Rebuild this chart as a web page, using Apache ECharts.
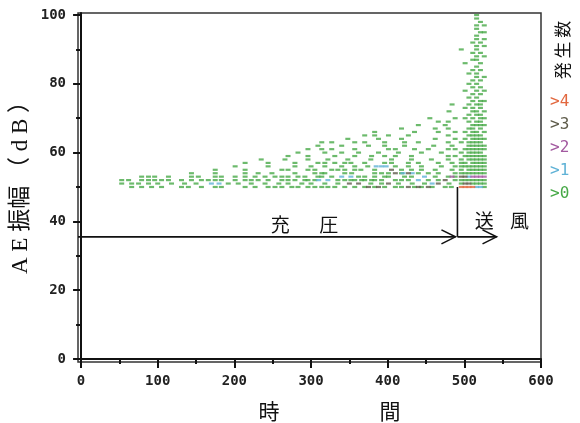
<!DOCTYPE html>
<html>
<head>
<meta charset="utf-8">
<script src="https://cdn.jsdelivr.net/npm/echarts@6/dist/echarts.min.js"></script>
<style>
  html, body { margin: 0; padding: 0; background: #fff; }
  #chart { width: 580px; height: 423px; }
</style>
</head>
<body>
<div id="chart"></div>
<script>
// axis ticks
const xMajor = [0, 100, 200, 300, 400, 500, 600];
const xMinor = [50, 150, 250, 350, 450, 550];
const yMajor = [0, 20, 40, 60, 80, 100];
const yMinor = [10, 30, 50, 70, 90];

const countNames = ['>4', '>3', '>2', '>1', '>0'];
const countColors = ['#e2683f', '#5e5b4a', '#a35aa0', '#5fb2d6', '#47a947'];

// >0 hits during charging: [dB, times]
const chargeRows = [
  [50, [66, 79, 92, 105, 131, 140, 157, 175, 183, 214, 227, 244, 253, 262, 275, 283, 296, 305, 314, 322, 331, 344, 357, 370, 383, 396, 410, 418, 435, 444, 458, 475, 483]],
  [51, [53, 66, 75, 88, 100, 118, 135, 150, 192, 205, 222, 240, 258, 270, 288, 300, 318, 335, 378, 392, 414, 432, 448, 480]],
  [52, [53, 62, 79, 88, 96, 105, 114, 131, 144, 157, 166, 175, 183, 201, 214, 222, 231, 244, 262, 270, 279, 292, 296, 305, 335, 344, 352, 357, 366, 370, 379, 383, 392, 410, 418, 427, 453, 466, 488]],
  [53, [79, 88, 96, 114, 144, 153, 175, 183, 201, 214, 227, 240, 253, 262, 270, 283, 292, 309, 314, 327, 362, 370, 383, 396, 401, 422, 431, 462, 479, 488]],
  [54, [144, 175, 214, 231, 249, 279, 305, 314, 318, 344, 353, 383, 392, 401, 418, 440, 453, 466, 488]],
  [55, [175, 214, 262, 270, 296, 305, 327, 335, 344, 357, 365, 383, 418, 431, 444, 462, 484]],
  [56, [201, 244, 279, 300, 318, 340, 357, 374, 410, 427, 444, 470, 488]],
  [57, [214, 244, 279, 309, 318, 331, 344, 352, 370, 396, 405, 427, 440, 466, 484]],
  [58, [235, 266, 296, 322, 348, 378, 405, 431, 457, 479]],
  [59, [270, 296, 331, 357, 379, 396, 410, 431, 479, 488]],
  [60, [283, 318, 340, 362, 388, 414, 444, 470]],
  [61, [296, 314, 327, 357, 401, 410, 435, 453, 479, 488]],
  [62, [309, 340, 375, 396, 422, 460, 484]],
  [63, [314, 327, 357, 370, 396, 422, 440, 479]],
  [64, [348, 388, 418, 462, 488]],
  [65, [370, 383, 401, 427, 479]],
  [66, [383, 435, 466, 488]],
  [67, [418, 462, 479]],
  [68, [440, 475]],
  [69, [466, 479]],
  [70, [455, 488]],
  [72, [480]],
  [74, [484]]
];

// >0 hits during air blowing: [dB, times]
const blowRows = [
  [50, [526]],
  [51, [496, 511, 516, 521, 526]],
  [52, [496, 501, 506, 511, 516, 521, 526]],
  [54, [496, 501, 506, 511, 516, 521, 526]],
  [55, [496, 506, 511, 516, 521, 526]],
  [56, [496, 501, 506, 511, 516, 521, 526]],
  [57, [496, 501, 511, 516, 521, 526]],
  [58, [496, 506, 511, 516, 521, 526]],
  [59, [501, 506, 511, 516, 521, 526]],
  [60, [496, 506, 511, 516, 521]],
  [61, [501, 506, 511, 516, 521, 526]],
  [62, [506, 511, 516, 521, 526]],
  [63, [496, 506, 511, 516, 521]],
  [64, [501, 511, 516, 521, 526]],
  [65, [506, 511, 516, 521]],
  [66, [501, 511, 516, 526]],
  [67, [506, 511, 521]],
  [68, [511, 516, 521, 526]],
  [69, [506, 516, 521]],
  [70, [501, 511, 521, 526]],
  [71, [506, 516, 521]],
  [72, [511, 516, 526]],
  [73, [501, 511, 521]],
  [74, [506, 516, 521]],
  [75, [511, 521, 526]],
  [76, [506, 516]],
  [77, [511, 521]],
  [78, [501, 516, 526]],
  [79, [511, 521]],
  [80, [506, 516]],
  [81, [511, 521]],
  [82, [516, 526]],
  [83, [506, 516]],
  [84, [511, 521]],
  [85, [516]],
  [86, [501, 521]],
  [87, [511, 516]],
  [88, [516, 526]],
  [89, [511, 521]],
  [90, [496, 516]],
  [91, [516, 526]],
  [92, [511, 521]],
  [93, [516, 526]],
  [94, [516]],
  [95, [521, 526]],
  [96, [516]],
  [97, [516, 526]],
  [98, [521]],
  [99, [516]],
  [100, [516]]
];

// higher counts: [time, dB]
const over1 = [[170, 51], [180, 51], [310, 52], [322, 52], [340, 53], [352, 53], [385, 56], [392, 56], [398, 56],
  [420, 54], [432, 54], [448, 53], [440, 52], [458, 51], [506, 53], [516, 50], [521, 50]];
const over2 = [[484, 53], [511, 53], [516, 53], [521, 53], [526, 53]];
const over3 = [[350, 51], [362, 51], [375, 50], [388, 50], [401, 51], [427, 50], [440, 50], [453, 50], [466, 51],
  [475, 52], [410, 54], [427, 54], [405, 55], [496, 53], [501, 53], [501, 51], [506, 51]];
const over4 = [[496, 50], [501, 50], [506, 50], [511, 50]];

// annotation: charging ends / blowing ends, arrow height
const phaseTimes = [-4, 491, 542];
const arrowLevel = 35.5;
const phaseTop = 50;

function rowsToPoints(rows) {
  const pts = [];
  rows.forEach(function (r) {
    r[1].forEach(function (t) { pts.push([t, r[0]]); });
  });
  return pts;
}
const over0 = rowsToPoints(chargeRows).concat(rowsToPoints(blowRows));

const chart = echarts.init(document.getElementById('chart'));
const axisColor = '#111';
const labelStyle = { fontFamily: 'DejaVu Sans Mono', fontWeight: 'bold', fontSize: 14, color: '#222' };

function dashSeries(name, color, data) {
  return {
    name: name,
    type: 'scatter',
    xAxisIndex: 0,
    yAxisIndex: 0,
    symbol: 'rect',
    symbolSize: [5, 2.2],
    itemStyle: { color: color },
    data: data
  };
}

chart.setOption({
  animation: false,
  grid: { left: 78, top: 13, right: 39, bottom: 61, show: true, borderColor: '#333', borderWidth: 1.5 },
  legend: {
    orient: 'vertical',
    left: 540,
    top: 88,
    itemWidth: 0,
    itemHeight: 0,
    itemGap: 6,
    selectedMode: false,
    textStyle: { fontFamily: 'DejaVu Sans Mono', fontSize: 16, lineHeight: 17 },
    data: countNames.map(function (n, i) {
      return { name: n, textStyle: { color: countColors[i] } };
    })
  },
  xAxis: [
    {
      type: 'value', min: -4, max: 600, position: 'bottom',
      axisLine: { lineStyle: { color: axisColor, width: 2 } },
      axisTick: { length: 9, customValues: xMajor, lineStyle: { color: axisColor, width: 2 } },
      axisLabel: Object.assign({ customValues: xMajor, margin: 12 }, labelStyle),
      splitLine: { show: false }
    },
    {
      type: 'value', min: -4, max: 600, position: 'bottom',
      axisLine: { show: false },
      axisTick: { length: 5, customValues: xMinor, lineStyle: { color: axisColor, width: 2 } },
      axisLabel: { show: false },
      splitLine: { show: false }
    }
  ],
  yAxis: [
    {
      type: 'value', min: -0.9, max: 100.6, position: 'left',
      axisLine: { show: true, lineStyle: { color: axisColor, width: 2 } },
      axisTick: { show: true, length: 8, customValues: yMajor, lineStyle: { color: axisColor, width: 2 } },
      axisLabel: Object.assign({ customValues: yMajor, margin: 12 }, labelStyle),
      splitLine: { show: false }
    },
    {
      type: 'value', min: -0.9, max: 100.6, position: 'left',
      axisLine: { show: false },
      axisTick: { show: true, length: 5, customValues: yMinor, lineStyle: { color: axisColor, width: 2 } },
      axisLabel: { show: false },
      splitLine: { show: false }
    }
  ],
  series: [
    dashSeries('>0', countColors[4], over0),
    dashSeries('>1', countColors[3], over1),
    dashSeries('>2', countColors[2], over2),
    dashSeries('>3', countColors[1], over3),
    dashSeries('>4', countColors[0], over4)
  ]
});

// phase arrows and titles
function px(t, v) { return chart.convertToPixel({ seriesIndex: 0 }, [t, v]); }
const a0 = px(phaseTimes[0], arrowLevel);
const a1 = px(phaseTimes[1], arrowLevel);
const a2 = px(phaseTimes[2], arrowLevel);
const aTop = px(phaseTimes[1], phaseTop);
const lineStyle = { stroke: '#111', lineWidth: 1.6, fill: null };

function arrowHead(p) {
  return { type: 'polyline', shape: { points: [[p[0] - 14, p[1] - 7], [p[0], p[1]], [p[0] - 14, p[1] + 7]] }, style: lineStyle };
}
function label(text, x, y, size, rot) {
  return {
    type: 'text', x: x, y: y, rotation: rot || 0,
    style: { text: text, fontFamily: 'Noto Sans CJK JP', fontSize: size, fill: '#111', align: 'center', verticalAlign: 'middle' }
  };
}
const c1 = px(260, 39);
const c2 = px(323, 39);
const s1 = px(526, 40.2);
const s2 = px(572, 40.2);

chart.setOption({
  graphic: [
    { type: 'line', shape: { x1: a0[0], y1: a0[1], x2: a1[0] - 2, y2: a1[1] }, style: lineStyle },
    arrowHead([a1[0] - 2, a1[1]]),
    { type: 'line', shape: { x1: aTop[0], y1: aTop[1], x2: a1[0], y2: a1[1] }, style: lineStyle },
    { type: 'line', shape: { x1: a1[0], y1: a1[1], x2: a2[0], y2: a2[1] }, style: lineStyle },
    arrowHead(a2),
    label('充', c1[0], c1[1], 19),
    label('圧', c2[0], c2[1], 19),
    label('送', s1[0], s1[1], 19),
    label('風', s2[0], s2[1], 19),
    label('時', 269, 411, 21),
    label('間', 390, 411, 21),
    label('発 生 数', 563, 50, 17, Math.PI / 2),
    {
      type: 'text', x: 21, y: 182, rotation: Math.PI / 2,
      style: {
        text: 'A E 振幅 （ d B ）', fontFamily: 'Liberation Serif, Noto Sans CJK JP', fontSize: 23,
        fill: '#111', align: 'center', verticalAlign: 'middle'
      }
    }
  ]
});

window.addEventListener('resize', function () { chart.resize(); });
</script>
</body>
</html>
